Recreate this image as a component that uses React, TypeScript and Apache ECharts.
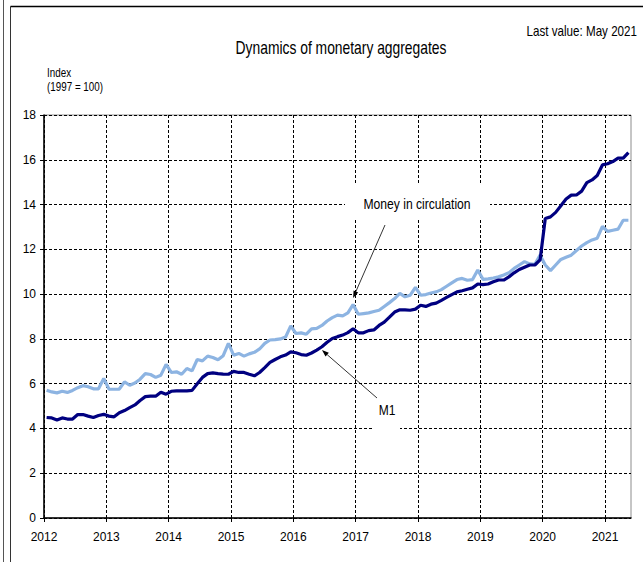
import React, { useEffect, useRef } from 'react';
import * as echarts from 'echarts';

const yearTicks = [2012, 2013, 2014, 2015, 2016, 2017, 2018, 2019, 2020, 2021];
const startYear = 2012;

// M1, monthly index values (Jan 2012 – May 2021)
const m1_2012 = [4.49, 4.47, 4.38, 4.47, 4.42, 4.42, 4.62, 4.62, 4.55, 4.49, 4.58, 4.63];
const m1_2013 = [4.55, 4.52, 4.70, 4.80, 4.93, 5.05, 5.25, 5.42, 5.44, 5.44, 5.62, 5.53];
const m1_2014 = [5.66, 5.68, 5.68, 5.68, 5.70, 6.00, 6.28, 6.45, 6.48, 6.45, 6.43, 6.42];
const m1_2015 = [6.55, 6.50, 6.50, 6.42, 6.35, 6.50, 6.72, 6.95, 7.08, 7.20, 7.28, 7.42];
const m1_2016 = [7.38, 7.30, 7.27, 7.37, 7.50, 7.65, 7.85, 8.02, 8.10, 8.17, 8.28, 8.45];
const m1_2017 = [8.27, 8.27, 8.37, 8.40, 8.60, 8.75, 8.97, 9.20, 9.30, 9.30, 9.28, 9.33];
const m1_2018 = [9.50, 9.45, 9.55, 9.60, 9.72, 9.85, 9.98, 10.10, 10.15, 10.22, 10.28, 10.45];
const m1_2019 = [10.42, 10.45, 10.55, 10.63, 10.63, 10.77, 10.95, 11.10, 11.20, 11.30, 11.30, 11.53];
const m1_2020 = [13.38, 13.45, 13.65, 13.95, 14.25, 14.42, 14.43, 14.60, 14.98, 15.10, 15.30, 15.77];
const m1_2021 = [15.82, 15.92, 16.07, 16.07, 16.32];

// Money in circulation, monthly index values
const mc_2012 = [5.71, 5.63, 5.59, 5.66, 5.61, 5.70, 5.82, 5.91, 5.86, 5.77, 5.77, 6.23];
const mc_2013 = [5.76, 5.75, 5.76, 6.08, 5.93, 6.03, 6.20, 6.45, 6.41, 6.28, 6.38, 6.86];
const mc_2014 = [6.50, 6.53, 6.42, 6.68, 6.57, 7.08, 7.02, 7.23, 7.17, 7.07, 7.25, 7.80];
const mc_2015 = [7.27, 7.35, 7.23, 7.33, 7.40, 7.55, 7.80, 7.95, 7.97, 8.00, 8.08, 8.58];
const mc_2016 = [8.24, 8.27, 8.21, 8.45, 8.47, 8.60, 8.80, 8.95, 9.06, 9.03, 9.16, 9.53];
const mc_2017 = [9.10, 9.13, 9.16, 9.22, 9.28, 9.45, 9.62, 9.80, 10.03, 9.88, 9.95, 10.30];
const mc_2018 = [9.95, 9.98, 10.05, 10.10, 10.20, 10.35, 10.50, 10.65, 10.70, 10.62, 10.65, 11.08];
const mc_2019 = [10.66, 10.68, 10.72, 10.77, 10.85, 10.95, 11.15, 11.30, 11.45, 11.35, 11.33, 11.74];
const mc_2020 = [11.30, 11.05, 11.30, 11.55, 11.65, 11.74, 11.95, 12.15, 12.30, 12.42, 12.50, 13.02];
const mc_2021 = [12.80, 12.85, 12.90, 13.30, 13.30];

const m1Values = [
  ...m1_2012, ...m1_2013, ...m1_2014, ...m1_2015, ...m1_2016,
  ...m1_2017, ...m1_2018, ...m1_2019, ...m1_2020, ...m1_2021,
];
const moneyValues = [
  ...mc_2012, ...mc_2013, ...mc_2014, ...mc_2015, ...mc_2016,
  ...mc_2017, ...mc_2018, ...mc_2019, ...mc_2020, ...mc_2021,
];

const FONT = "'Liberation Sans', Arial, sans-serif";

// month midpoints as fractional years
const toSeries = (vals: number[]) => vals.map((v, i) => [startYear + (i + 0.5) / 12, v]);

function arrow(from: number[], to: number[], z: number) {
  const dx = to[0] - from[0];
  const dy = to[1] - from[1];
  const len = Math.sqrt(dx * dx + dy * dy);
  const ux = dx / len;
  const uy = dy / len;
  const hl = 7;
  const hw = 2.5;
  const bx = to[0] - ux * hl;
  const by = to[1] - uy * hl;
  return [
    {
      type: 'line',
      z,
      shape: { x1: from[0], y1: from[1], x2: bx, y2: by },
      style: { stroke: '#000', lineWidth: 0.8 },
      silent: true,
    },
    {
      type: 'polygon',
      z,
      shape: {
        points: [
          [to[0], to[1]],
          [bx - uy * hw, by + ux * hw],
          [bx + uy * hw, by - ux * hw],
        ],
      },
      style: { fill: '#000' },
      silent: true,
    },
  ];
}

function label(text: string, x: number, y: number, size: number, sx: number, align: string, z = 5, lineHeight?: number) {
  return {
    type: 'text',
    z,
    x,
    y,
    scaleX: sx,
    style: {
      text,
      fontSize: size,
      lineHeight: lineHeight ?? Math.round(size * 1.2),
      fontFamily: FONT,
      fill: '#000',
      align,
      verticalAlign: 'middle',
    },
  };
}

export default function App() {
  const ref = useRef<HTMLDivElement>(null);

  useEffect(() => {
    document.body.style.margin = '0';
    if (!ref.current) return;
    const chart = echarts.init(ref.current, undefined, { renderer: 'svg' });
    const xMax = startYear + m1Values.length / 12;

    chart.setOption({
      animation: false,
      backgroundColor: '#fff',
      textStyle: { fontFamily: FONT },
      grid: {
        left: 44,
        right: 12,
        top: 115,
        bottom: 44,
        show: true,
        borderColor: '#8c8c8c',
        borderWidth: 1,
        backgroundColor: 'transparent',
      },
      xAxis: {
        type: 'value',
        min: startYear,
        max: xMax,
        interval: 1,
        axisLine: { show: true, onZero: false, lineStyle: { color: '#000', width: 1.5 } },
        axisTick: { show: true, length: 4, customValues: yearTicks, lineStyle: { color: '#000' } },
        axisLabel: {
          customValues: yearTicks,
          formatter: (v: number) => String(Math.round(v)),
          color: '#000',
          fontSize: 12,
          fontFamily: FONT,
          margin: 13,
        },
        splitLine: { show: true, lineStyle: { color: '#000', type: [3, 2], width: 1 } },
      },
      yAxis: {
        type: 'value',
        min: 0,
        max: 18,
        interval: 2,
        axisLine: { show: true, lineStyle: { color: '#000', width: 1.5 } },
        axisTick: { show: true, length: 4, lineStyle: { color: '#000' } },
        axisLabel: { color: '#000', fontSize: 12, fontFamily: FONT, margin: 8 },
        splitLine: { show: true, lineStyle: { color: '#000', type: [3, 2], width: 1 } },
      },
      series: [
        {
          name: 'Money in circulation',
          type: 'line',
          data: toSeries(moneyValues),
          showSymbol: false,
          symbol: 'none',
          lineStyle: { color: '#8db4e2', width: 3.2 },
          z: 3,
        },
        {
          name: 'M1',
          type: 'line',
          data: toSeries(m1Values),
          showSymbol: false,
          symbol: 'none',
          lineStyle: { color: '#000080', width: 3.2 },
          z: 4,
        },
      ],
    });

    const moneyTip = chart.convertToPixel({ gridIndex: 0 }, [startYear + (59 + 0.5) / 12, moneyValues[59] + 0.3]) as number[];
    const m1Tip = chart.convertToPixel({ gridIndex: 0 }, [startYear + 53.5 / 12, m1Values[53] - 0.15]) as number[];

    chart.setOption({
      graphic: [
        // outer frame lines
        { type: 'line', shape: { x1: 3.5, y1: 0, x2: 3.5, y2: 562 }, style: { stroke: '#555', lineWidth: 1 }, silent: true },
        { type: 'line', shape: { x1: 10.5, y1: 6.5, x2: 10.5, y2: 562 }, style: { stroke: '#333', lineWidth: 1 }, silent: true },
        { type: 'line', shape: { x1: 10.5, y1: 6.5, x2: 643, y2: 6.5 }, style: { stroke: '#000', lineWidth: 1.5 }, silent: true },
        label('Dynamics of monetary aggregates', 341, 47, 18, 0.77, 'center'),
        label('Last value: May 2021', 637, 31, 14, 0.83, 'right'),
        label('Index\n(1997 = 100)', 47, 80, 12, 0.82, 'left', 5, 14),
        // label boxes
        { type: 'rect', z: 1, shape: { x: 345, y: 185, width: 145, height: 33 }, style: { fill: '#fff' }, silent: true },
        label('Money in circulation', 417, 204, 15, 0.81, 'center'),
        { type: 'rect', z: 1, shape: { x: 373, y: 393, width: 27, height: 36 }, style: { fill: '#fff' }, silent: true },
        label('M1', 387, 410, 15, 0.8, 'center'),
        ...arrow([385, 225], moneyTip, 5),
        ...arrow([377, 398], m1Tip, 5),
      ],
    });

    return () => chart.dispose();
  }, []);

  return <div ref={ref} style={{ width: 643, height: 562 }} />;
}
